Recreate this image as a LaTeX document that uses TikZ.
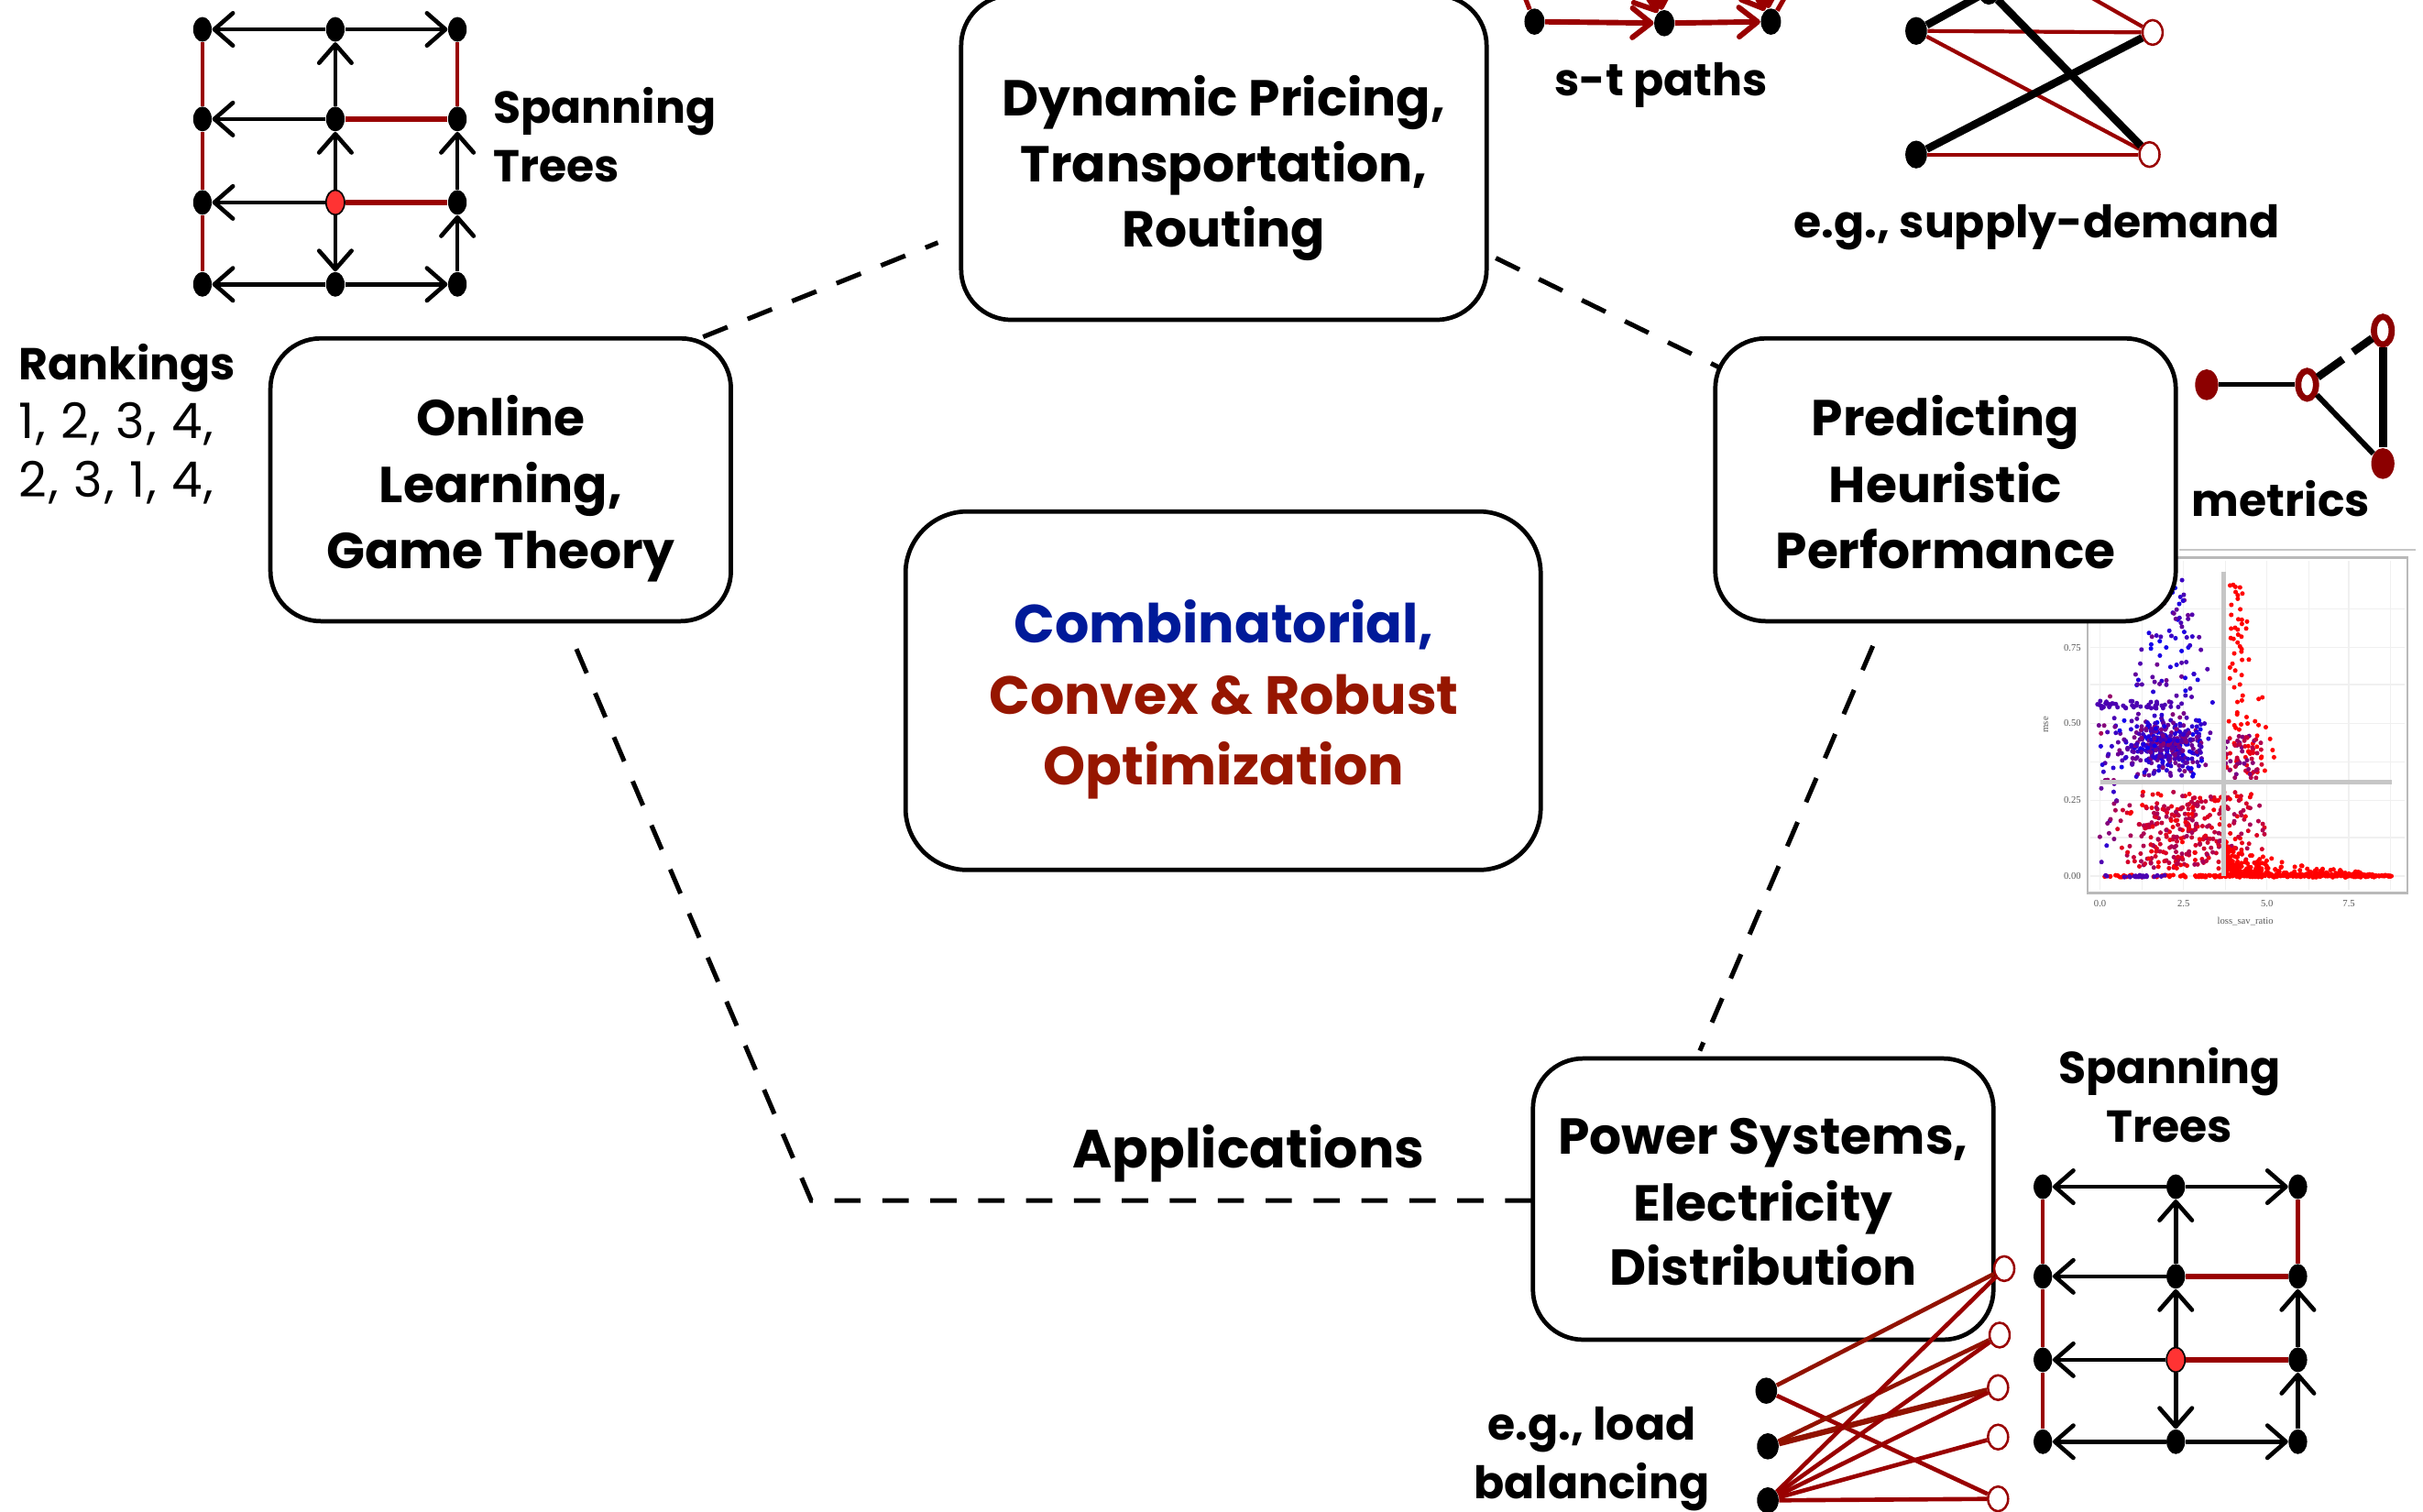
\documentclass[tikz,border=0pt]{standalone}
\usepackage{fontspec}
\setmainfont{Poppins}
\newfontfamily\numfont{Poppins}[LetterSpace=4]
\newfontfamily\plotfont{Liberation Serif}
\usetikzlibrary{arrows.meta,shapes.geometric,calc}
\definecolor{dred}{RGB}{153,0,0}
\definecolor{bred}{RGB}{145,18,0}
\definecolor{tred}{RGB}{150,22,0}
\definecolor{tblue}{RGB}{0,26,153}
\definecolor{mred}{RGB}{140,0,0}
\definecolor{nred}{RGB}{255,51,51}
\tikzset{
  box/.style={draw=black, line width=1.6pt, fill=white, rounded corners=6.5mm, inner sep=0pt, outer sep=0pt},
  btxt/.style={anchor=base, inner sep=0pt, font=\bfseries\fontsize{18.6}{23}\selectfont},
  ctxt/.style={anchor=base, inner sep=0pt, font=\bfseries\fontsize{19.8}{25}\selectfont},
  lbl/.style={anchor=base, inner sep=0pt, font=\bfseries\fontsize{16.5}{20}\selectfont},
  rlbl/.style={anchor=base west, inner sep=0pt, font=\numfont\fontsize{18}{20}\selectfont},
  tick/.style={inner sep=0pt, text=black!65, font=\plotfont\fontsize{3.6}{4}\selectfont},
  dashline/.style={line width=0.6mm, dash pattern=on 3.4mm off 2.8mm},
  gn/.style={ellipse, fill=black, minimum width=2.4mm, minimum height=3.2mm, inner sep=0pt},
  opennode/.style={ellipse, draw=dred, fill=white, line width=0.3mm, minimum width=2.6mm, minimum height=3.2mm, inner sep=0pt},
  garrow/.style={line width=0.55mm, -{Straight Barb[length=2.4mm,width=4.2mm,round]}},
  gred/.style={dred, line width=0.5mm},
  redarrow/.style={dred, line width=0.7mm, -{Straight Barb[length=2.4mm,width=3.8mm,round]}},
  metf/.style={ellipse, fill=mred, minimum width=3mm, minimum height=4mm, inner sep=0pt},
  metr/.style={ellipse, draw=mred, fill=white, line width=0.8mm, minimum width=2.3mm, minimum height=3.6mm, inner sep=0pt},
}
\newcommand{\spantree}[1]{%
  \node[gn] (#1-00) at (0,0) {};
  \node[gn] (#1-10) at (86,0) {};
  \node[gn] (#1-20) at (165,0) {};
  \node[gn] (#1-01) at (0,58) {};
  \node[gn] (#1-11) at (86,58) {};
  \node[gn] (#1-21) at (165,58) {};
  \node[gn] (#1-02) at (0,112) {};
  \node[ellipse, fill=nred, draw=black, line width=0.2mm, minimum width=2.4mm, minimum height=3.2mm, inner sep=0pt] (#1-12) at (86,112) {};
  \node[gn] (#1-22) at (165,112) {};
  \node[gn] (#1-03) at (0,165) {};
  \node[gn] (#1-13) at (86,165) {};
  \node[gn] (#1-23) at (165,165) {};
  \draw[gred] (#1-00) -- (#1-01);
  \draw[gred] (#1-01) -- (#1-02);
  \draw[gred] (#1-02) -- (#1-03);
  \draw[gred] (#1-20) -- (#1-21);
  \draw[gred, line width=0.7mm] (#1-11) -- (#1-21);
  \draw[gred, line width=0.7mm] (#1-12) -- (#1-22);
  \draw[garrow] (#1-10) -- (#1-00);
  \draw[garrow] (#1-10) -- (#1-20);
  \draw[garrow] (#1-11) -- (#1-01);
  \draw[garrow] (#1-12) -- (#1-02);
  \draw[garrow] (#1-13) -- (#1-03);
  \draw[garrow] (#1-13) -- (#1-23);
  \draw[garrow] (#1-11) -- (#1-10);
  \draw[garrow] (#1-12) -- (#1-11);
  \draw[garrow] (#1-12) -- (#1-13);
  \draw[garrow] (#1-22) -- (#1-21);
  \draw[garrow] (#1-23) -- (#1-22);
}
\begin{document}
\begin{tikzpicture}[x=0.2mm, y=-0.2mm]
\useasboundingbox (0,0) rectangle (1568,978);
\clip (0,0) rectangle (1568,978);

% ---------------- scatter plot ----------------
\draw[gray!45, line width=0.25mm] (1410,356) -- (1563,356);
\foreach \gx in {1359,1386,1413,1440,1467,1494,1520,1547}
  \draw[gray!12, line width=0.15mm] (\gx,363) -- (\gx,576);
\foreach \gy in {394,419,443,468,493,518,542,567}
  \draw[gray!12, line width=0.15mm] (1353,\gy) -- (1556,\gy);
\draw[gray!55, line width=0.3mm] (1351,361) rectangle (1558,578);
\pgfmathsetseed{42}
% purple cluster
\foreach \i in {1,...,380}{
  \pgfmathsetmacro\px{1400+16*(rand+rand)}
  \pgfmathsetmacro\py{482+11*(rand+rand)}
  \pgfmathtruncatemacro\m{30+25*rand}
  \fill[red!\m!blue] (\px,\py) circle[radius=1.5];
}
% upper purple scatter
\foreach \i in {1,...,80}{
  \pgfmathsetmacro\t{rnd}
  \pgfmathsetmacro\py{375+80*\t}
  \pgfmathsetmacro\px{1405+(8+22*\t)*rand}
  \pgfmathtruncatemacro\m{25+20*rand}
  \fill[red!\m!blue] (\px,\py) circle[radius=1.5];
}
% purple band
\foreach \i in {1,...,45}{
  \pgfmathsetmacro\px{1385+28*rand}
  \pgfmathsetmacro\py{456+2.5*rand}
  \fill[red!30!blue] (\px,\py) circle[radius=1.5];
}
% sparse left purple
\foreach \i in {1,...,35}{
  \pgfmathsetmacro\px{1364+6*rand}
  \pgfmathsetmacro\py{505+55*rand}
  \pgfmathtruncatemacro\m{40+30*rand}
  \fill[red!\m!blue] (\px,\py) circle[radius=1.5];
}
% red right of vertical
\foreach \i in {1,...,70}{
  \pgfmathsetmacro\t{rnd}
  \pgfmathsetmacro\py{378+125*\t}
  \pgfmathsetmacro\px{1442+(8+26*\t)*rnd}
  \fill[red] (\px,\py) circle[radius=1.5];
}
% magenta right of vertical near crossing
\foreach \i in {1,...,60}{
  \pgfmathsetmacro\px{1452+12*rand}
  \pgfmathsetmacro\py{490+14*rand}
  \pgfmathtruncatemacro\m{70+25*rand}
  \fill[red!\m!blue] (\px,\py) circle[radius=1.5];
}
% red/magenta below horizontal
\foreach \i in {1,...,320}{
  \pgfmathsetmacro\px{1418+25*(rand+rand)}
  \pgfmathsetmacro\py{537+25*rand}
  \pgfmathtruncatemacro\m{82+18*rand}
  \fill[red!\m!blue] (\px,\py) circle[radius=1.5];
}
% red tail
\foreach \i in {1,...,380}{
  \pgfmathsetmacro\u{rnd}
  \pgfmathsetmacro\px{1440+108*\u*\u}
  \pgfmathsetmacro\py{567-30*rnd*rnd*(1-\u)}
  \fill[red] (\px,\py) circle[radius=1.5];
}
% bottom line
\foreach \i in {1,...,130}{
  \pgfmathsetmacro\px{1360+186*rnd}
  \pgfmathsetmacro\py{567+0.8*rand}
  \fill[red] (\px,\py) circle[radius=1.5];
}
\foreach \i in {1,...,25}{
  \pgfmathsetmacro\px{1362+40*rnd}
  \pgfmathsetmacro\py{567+0.6*rand}
  \fill[red!30!blue] (\px,\py) circle[radius=1.5];
}
\draw[gray!45, line width=0.6mm] (1439,370) -- (1439,567);
\draw[gray!45, line width=0.6mm] (1359,506) -- (1548,506);
\node[tick, anchor=east] (ty1) at (1347,419) {0.75};
\node[tick, anchor=east] (ty2) at (1347,468) {0.50};
\node[tick, anchor=east] (ty3) at (1347,518) {0.25};
\node[tick, anchor=east] (ty4) at (1347,567) {0.00};
\node[tick] (tx1) at (1359,585) {0.0};
\node[tick] (tx2) at (1413,585) {2.5};
\node[tick] (tx3) at (1467,585) {5.0};
\node[tick] (tx4) at (1520,585) {7.5};
\node[tick, rotate=90] (ytl) at (1324,469) {mse};
\node[tick] (xtl) at (1453,596) {loss\_sav\_ratio};

% ---------------- main boxes ----------------
\node[box, minimum width=68mm, minimum height=42mm] (b1) at (792,102) {};
\node[box, minimum width=59.6mm, minimum height=36.6mm] (b2) at (324,310.5) {};
\node[box, minimum width=59.6mm, minimum height=36.6mm] (b3) at (1259,310.5) {};
\node[box, minimum width=82.2mm, minimum height=46.4mm, rounded corners=8mm] (b4) at (791.5,447) {};
\node[box, minimum width=59.6mm, minimum height=36.4mm] (b5) at (1141,776) {};

\node[btxt] (t1a) at (792,75) {Dynamic Pricing,};
\node[btxt] (t1b) at (792,118) {Transportation,};
\node[btxt] (t1c) at (792,160) {Routing};
\node[btxt] (t2a) at (324,282) {Online};
\node[btxt] (t2b) at (324,325) {Learning,};
\node[btxt] (t2c) at (324,368) {Game Theory};
\node[btxt] (t3a) at (1259,282) {Predicting};
\node[btxt] (t3b) at (1259,325) {Heuristic};
\node[btxt] (t3c) at (1259,368) {Performance};
\node[ctxt, text=tblue] (t4a) at (792,416) {Combinatorial,};
\node[ctxt, text=tred] (t4b) at (792,462) {Convex \& Robust};
\node[ctxt, text=tred] (t4c) at (792,508) {Optimization};
\node[btxt] (t5a) at (1141,747) {Power Systems,};
\node[btxt] (t5b) at (1141,790) {Electricity};
\node[btxt] (t5c) at (1141,832) {Distribution};

% ---------------- dashed connectors ----------------
\coordinate (cnr) at (525,777);
\draw[dashline] ($(b2.north east)+(-18,-1)$) -- ($(b1.west)+(-15,55)$);
\draw[dashline] ($(b1.east)+(6,65)$) -- ($(b3.north west)+(3,19)$);
\draw[dashline] ($(b3.south)+(-47,16)$) -- ($(b5.north)+(-41,-5)$);
\draw[dashline] ($(b2.south)+(49,18)$) -- (cnr) -- (b5.west |- cnr);
\node[btxt, font=\bfseries\fontsize{19.8}{24}\selectfont] (app) at (808,756) {Applications};

% ---------------- spanning trees ----------------
\begin{scope}[shift={(131,19)}]
  \spantree{a}
\end{scope}
\node[lbl, anchor=base west] (sp1) at (319,80) {Spanning};
\node[lbl, anchor=base west] (sp2) at (319,118) {Trees};
\begin{scope}[shift={(1322,768)}]
  \spantree{c}
\end{scope}
\node[lbl] (sp3) at (1404,701) {Spanning};
\node[lbl] (sp4) at (1404,739) {Trees};

% ---------------- rankings ----------------
\node[lbl, anchor=base west] (rk) at (12,246) {Rankings};
\node[rlbl] (rk1) at (12,284) {1, 2, 3, 4,};
\node[rlbl] (rk2) at (12,322) {2, 3, 1, 4,};

% ---------------- s-t paths ----------------
\node[gn, minimum width=2.6mm, minimum height=3.4mm] (s1) at (993,14) {};
\node[gn, minimum width=2.6mm, minimum height=3.4mm] (s2) at (1077,15) {};
\node[gn, minimum width=2.6mm, minimum height=3.4mm] (s3) at (1146,14) {};
\coordinate (sa) at (982,-14);
\coordinate (sb) at (1052,-24);
\coordinate (sc) at (1068,-34);
\coordinate (sd) at (1124,-24);
\coordinate (se) at (1138,-34);
\coordinate (sf) at (1162,-14);
\draw[dred, line width=0.6mm] (s1) -- (sa);
\draw[redarrow] (s1) -- (s2);
\draw[redarrow] (s2) -- (s3);
\draw[redarrow] (sb) -- (s2);
\draw[redarrow] (sc) -- (s2);
\draw[redarrow] (sd) -- (s3);
\draw[redarrow] (se) -- (s3);
\draw[dred, line width=0.6mm] (s3) -- (sf);
\node[lbl] (stp) at (1075,62) {s-t paths};

% ---------------- supply-demand ----------------
\node[gn, minimum width=2.8mm, minimum height=3.6mm] (p1) at (1240,20) {};
\node[gn, minimum width=2.8mm, minimum height=3.6mm] (p2) at (1240,100) {};
\node[gn, minimum width=2.8mm, minimum height=3.6mm] (pt) at (1287,-6) {};
\node[opennode] (q1) at (1393,21) {};
\node[opennode] (q2) at (1391,100) {};
\coordinate (qx) at (1335,-12);
\draw[dred, line width=0.5mm] (p1) -- (q1);
\draw[dred, line width=0.5mm] (p1) -- (q2);
\draw[dred, line width=0.5mm] (p2) -- (q2);
\draw[dred, line width=0.5mm] (q1) -- (qx);
\draw[black, line width=1mm] (pt) -- (p1);
\draw[black, line width=1mm] (pt) -- (q2);
\draw[black, line width=1mm] (p2) -- (q1);
\node[lbl] (sdl) at (1318,154) {e.g., supply-demand};

% ---------------- metrics ----------------
\node[metf] (m1) at (1428,249) {};
\node[metr] (m2) at (1493,249) {};
\node[metr] (m3) at (1542,214) {};
\node[metf] (m4) at (1542,300) {};
\draw[line width=0.6mm] (m1) -- (m2);
\draw[line width=1mm, dash pattern=on 4mm off 1.6mm] (m2) -- (m3);
\draw[line width=0.7mm] (m2) -- (m4);
\draw[line width=1.1mm] (m3) -- (m4);
\node[lbl] (met) at (1476,334) {metrics};

% ---------------- load balancing ----------------
\node[gn, minimum width=2.8mm, minimum height=3.4mm] (l1) at (1143,900) {};
\node[gn, minimum width=2.8mm, minimum height=3.4mm] (l2) at (1144,936) {};
\node[gn, minimum width=2.8mm, minimum height=3.4mm] (l3) at (1144,971) {};
\node[opennode] (r1) at (1297,821) {};
\node[opennode] (r2) at (1294,864) {};
\node[opennode] (r3) at (1293,898) {};
\node[opennode] (r4) at (1293,930) {};
\node[opennode] (r5) at (1293,970) {};
\draw[bred, line width=0.55mm] (l1) -- (r1);
\draw[dred, line width=0.55mm] (l1) -- (r5);
\draw[bred, line width=0.55mm] (l2) -- (r2);
\draw[bred, line width=0.75mm] (l2) -- (r3);
\foreach \r in {r1,r2,r3,r4,r5}
  \draw[dred, line width=0.55mm] (l3) -- (\r);
\node[lbl] (lb1) at (1030,932) {e.g., load};
\node[lbl] (lb2) at (1030,970) {balancing};
\end{tikzpicture}
\end{document}
